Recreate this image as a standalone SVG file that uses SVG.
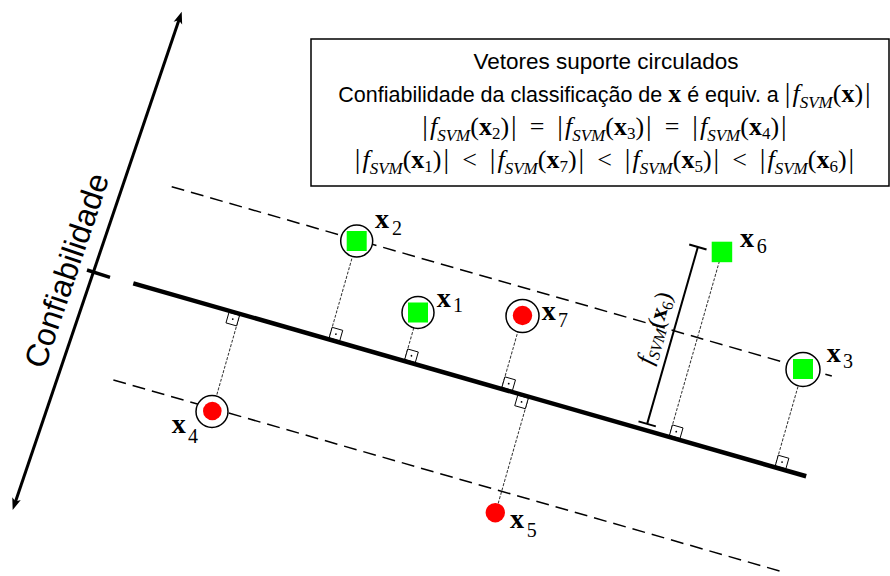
<svg xmlns="http://www.w3.org/2000/svg" width="890" height="576" viewBox="0 0 890 576">
<style>
.dash{stroke:#000;stroke-width:1.5;stroke-dasharray:13 7;fill:none}
.perp{stroke:#333;stroke-width:1;stroke-dasharray:3 1.5;fill:none}
.ra{fill:#fff;stroke:#000;stroke-width:0.9}
.rad{fill:#000}
.main{stroke:#000;stroke-width:4.5;fill:none}
.bar2{stroke:#000;stroke-width:2;fill:none}
.ring{fill:#fff;stroke:#000;stroke-width:1.5}
.sq{fill:#00ff00}
.dot{fill:#ff0000}
.lbl{font-family:"Liberation Serif",serif;font-weight:bold;font-size:28px;fill:#000}
.lsub{font-family:"Liberation Serif",serif;font-weight:normal;font-size:20px}
.sans{font-family:"Liberation Sans",Arial,sans-serif;font-size:21.5px;fill:#000}
.bar{font-family:"Liberation Serif",serif;font-size:28px;font-style:normal;font-weight:normal}
.mi{font-family:"Liberation Serif",serif;font-size:26px;font-style:italic;font-weight:normal}
.ms{font-family:"Liberation Serif",serif;font-size:17px;font-style:italic;font-weight:normal}
.mr{font-family:"Liberation Serif",serif;font-size:26px;font-style:normal;font-weight:normal}
.mb{font-family:"Liberation Serif",serif;font-size:26px;font-style:normal;font-weight:bold}
.md{font-family:"Liberation Serif",serif;font-size:17px;font-style:normal;font-weight:normal}
</style>
<defs>
<marker id="ah" markerUnits="userSpaceOnUse" viewBox="-7 -6 14 12" markerWidth="14" markerHeight="12" refX="0" refY="0" orient="auto-start-reverse">
<path d="M6,0 L-6,-4.5 L-3,0 L-6,4.5 Z" fill="#000"/>
</marker>
</defs>
<rect width="890" height="576" fill="#fff"/>

<g id="axis">
<line x1="14.6" y1="504.3" x2="179.8" y2="17.4" stroke="#000" stroke-width="3" marker-start="url(#ah)" marker-end="url(#ah)"/>
<line x1="87" y1="270" x2="110" y2="277.3" stroke="#000" stroke-width="3.5"/>
<text class="sans" style="font-size:32px" transform="translate(77 274) rotate(-71.3)" text-anchor="middle">Confiabilidade</text>
</g>

<g id="legend">
<rect x="311" y="39" width="578" height="147" fill="#fff" stroke="#000" stroke-width="1.5"/>
<text class="sans" style="font-size:22.5px" x="606" y="69" text-anchor="middle">Vetores suporte circulados</text>
<text class="sans" x="604.5" y="102" text-anchor="middle">Confiabilidade da classificação de <tspan class="mb">x</tspan> é equiv. a <tspan class="bar">|</tspan><tspan class="mi" dx="2">f</tspan><tspan class="ms" dy="6">SVM</tspan><tspan class="mr" dy="-6">(</tspan><tspan class="mb">x</tspan><tspan class="mr">)</tspan><tspan class="bar" dx="2">|</tspan></text>
<text class="sans" x="604.5" y="135" text-anchor="middle"><tspan class="bar">|</tspan><tspan class="mi" dx="2">f</tspan><tspan class="ms" dy="6">SVM</tspan><tspan class="mr" dy="-6">(</tspan><tspan class="mb">x</tspan><tspan class="md" dy="4">2</tspan><tspan class="mr" dy="-4">)</tspan><tspan class="bar" dx="2">|</tspan><tspan class="mr" dx="13">=</tspan><tspan class="bar" dx="13">|</tspan><tspan class="mi" dx="2">f</tspan><tspan class="ms" dy="6">SVM</tspan><tspan class="mr" dy="-6">(</tspan><tspan class="mb">x</tspan><tspan class="md" dy="4">3</tspan><tspan class="mr" dy="-4">)</tspan><tspan class="bar" dx="2">|</tspan><tspan class="mr" dx="13">=</tspan><tspan class="bar" dx="13">|</tspan><tspan class="mi" dx="2">f</tspan><tspan class="ms" dy="6">SVM</tspan><tspan class="mr" dy="-6">(</tspan><tspan class="mb">x</tspan><tspan class="md" dy="4">4</tspan><tspan class="mr" dy="-4">)</tspan><tspan class="bar" dx="2">|</tspan></text>
<text class="sans" x="604.5" y="168" text-anchor="middle"><tspan class="bar">|</tspan><tspan class="mi" dx="2">f</tspan><tspan class="ms" dy="6">SVM</tspan><tspan class="mr" dy="-6">(</tspan><tspan class="mb">x</tspan><tspan class="md" dy="4">1</tspan><tspan class="mr" dy="-4">)</tspan><tspan class="bar" dx="2">|</tspan><tspan class="mr" dx="13">&lt;</tspan><tspan class="bar" dx="13">|</tspan><tspan class="mi" dx="2">f</tspan><tspan class="ms" dy="6">SVM</tspan><tspan class="mr" dy="-6">(</tspan><tspan class="mb">x</tspan><tspan class="md" dy="4">7</tspan><tspan class="mr" dy="-4">)</tspan><tspan class="bar" dx="2">|</tspan><tspan class="mr" dx="13">&lt;</tspan><tspan class="bar" dx="13">|</tspan><tspan class="mi" dx="2">f</tspan><tspan class="ms" dy="6">SVM</tspan><tspan class="mr" dy="-6">(</tspan><tspan class="mb">x</tspan><tspan class="md" dy="4">5</tspan><tspan class="mr" dy="-4">)</tspan><tspan class="bar" dx="2">|</tspan><tspan class="mr" dx="13">&lt;</tspan><tspan class="bar" dx="13">|</tspan><tspan class="mi" dx="2">f</tspan><tspan class="ms" dy="6">SVM</tspan><tspan class="mr" dy="-6">(</tspan><tspan class="mb">x</tspan><tspan class="md" dy="4">6</tspan><tspan class="mr" dy="-4">)</tspan><tspan class="bar" dx="2">|</tspan></text>
</g>

<g id="hyperplane" transform="translate(133.3 283.3) rotate(16)">
<line class="dash" x1="10.3" y1="-103.4" x2="697" y2="-103.4"/>
<line class="dash" x1="7.5" y1="98.4" x2="701" y2="98.4"/>
</g>

<g id="connectors" transform="translate(133.3 283.3) rotate(16)">
<line class="perp" x1="203.3" y1="0" x2="203.3" y2="-101.6"/>
<line class="perp" x1="281.9" y1="0" x2="281.9" y2="-49.9"/>
<line class="perp" x1="383" y1="0" x2="383" y2="-76.4"/>
<line class="perp" x1="111" y1="0" x2="111" y2="101.5"/>
<line class="perp" x1="411.4" y1="0" x2="411.4" y2="120.5"/>
<line class="perp" x1="557.3" y1="0" x2="557.3" y2="-192.4"/>
<line class="perp" x1="667.4" y1="0" x2="667.4" y2="-102.3"/>
<rect class="ra" x="203.3" y="-12.5" width="11" height="11"/><circle class="rad" cx="208.8" cy="-7" r="0.9"/>
<rect class="ra" x="281.9" y="-12.5" width="11" height="11"/><circle class="rad" cx="287.4" cy="-7" r="0.9"/>
<rect class="ra" x="383" y="-12.5" width="11" height="11"/><circle class="rad" cx="388.5" cy="-7" r="0.9"/>
<rect class="ra" x="557.3" y="-12.5" width="11" height="11"/><circle class="rad" cx="562.8" cy="-7" r="0.9"/>
<rect class="ra" x="667.4" y="-12.5" width="11" height="11"/><circle class="rad" cx="672.9" cy="-7" r="0.9"/>
<rect class="ra" x="100" y="1.5" width="11" height="11"/><circle class="rad" cx="105.5" cy="7" r="0.9"/>
<rect class="ra" x="400.4" y="1.5" width="11" height="11"/><circle class="rad" cx="405.9" cy="7" r="0.9"/>
<line class="main" x1="0" y1="0" x2="700" y2="0"/>
<line class="bar2" x1="532.7" y1="-6.5" x2="532.7" y2="-190.5"/>
<line class="bar2" x1="523.7" y1="-6.5" x2="541.7" y2="-6.5"/>
<line class="bar2" x1="523.7" y1="-190.5" x2="541.7" y2="-190.5"/>
<text transform="translate(521 -100.8) rotate(-90)" text-anchor="middle" class="mr" style="font-size:24px"><tspan class="mi" style="font-size:24px">f</tspan><tspan class="ms" style="font-size:16px" dy="5">SVM</tspan><tspan class="mr" style="font-size:24px" dy="-5">(</tspan><tspan class="mb" style="font-size:24px">x</tspan><tspan class="md" style="font-size:16px" dy="4">6</tspan><tspan class="mr" style="font-size:24px" dy="-4">)</tspan></text>
</g>

<g id="node-x1">
<circle class="ring" cx="418" cy="312.5" r="16"/>
<rect class="sq" x="408" y="302.5" width="20" height="20"/>
<text class="lbl" x="436.7" y="306.7">x<tspan class="lsub" x="453" y="312">1</tspan></text>
</g>
<g id="node-x2">
<circle class="ring" cx="356.7" cy="241" r="16"/>
<rect class="sq" x="346.7" y="231" width="20" height="20"/>
<text class="lbl" x="375" y="228">x<tspan class="lsub" x="392" y="235">2</tspan></text>
</g>
<g id="node-x3">
<circle class="ring" cx="803" cy="369.5" r="17"/>
<rect class="sq" x="793" y="359" width="20" height="20"/>
<text class="lbl" x="826.7" y="361.7">x<tspan class="lsub" x="843" y="368">3</tspan></text>
</g>
<g id="node-x4">
<circle class="ring" cx="212" cy="411.5" r="16"/>
<circle class="dot" cx="212.3" cy="411" r="9.3"/>
<text class="lbl" x="171.7" y="433.3">x<tspan class="lsub" x="188" y="443">4</tspan></text>
</g>
<g id="node-x5">
<circle class="dot" cx="495.3" cy="512.7" r="9.7"/>
<text class="lbl" x="510" y="528">x<tspan class="lsub" x="526.7" y="536.7">5</tspan></text>
</g>
<g id="node-x6">
<rect class="sq" x="711.7" y="241.7" width="20.5" height="20.5"/>
<text class="lbl" x="740" y="246.7">x<tspan class="lsub" x="756.7" y="253">6</tspan></text>
</g>
<g id="node-x7">
<circle class="ring" cx="522.5" cy="316" r="16.5"/>
<circle class="dot" cx="522.5" cy="315.5" r="9.7"/>
<text class="lbl" x="541.7" y="320">x<tspan class="lsub" x="558" y="326.7">7</tspan></text>
</g>
</svg>
